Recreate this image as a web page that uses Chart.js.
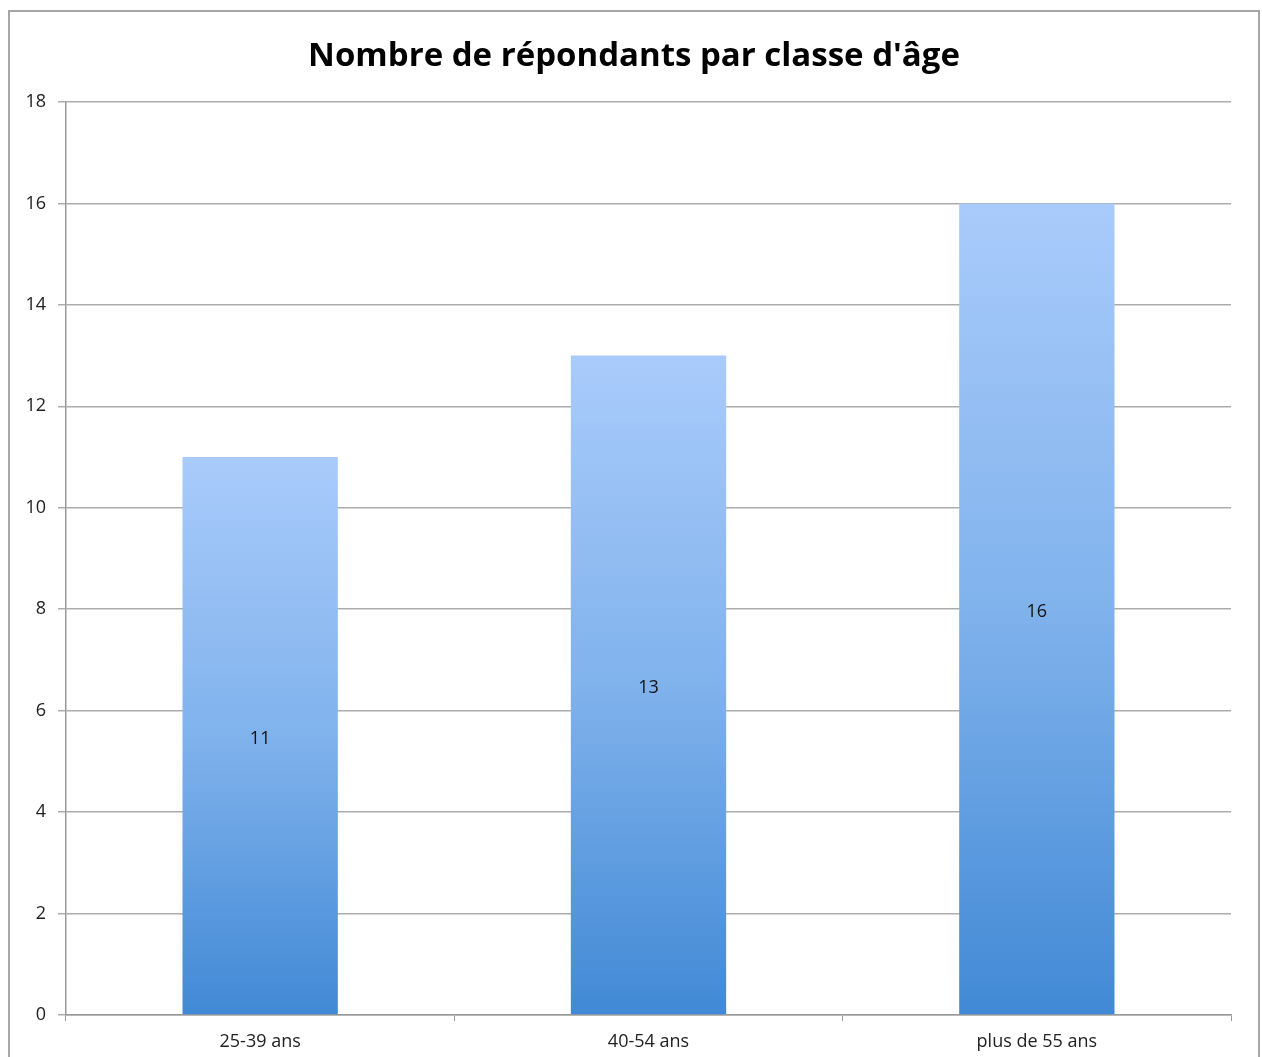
<!DOCTYPE html>
<html>
<head>
<meta charset="utf-8">
<script src="https://cdn.jsdelivr.net/npm/chart.js@4.4.0/dist/chart.umd.min.js"></script>
<style>
    html, body { margin: 0; padding: 0; background: #fff; }
    #wrap { width: 1262px; height: 1057px; position: relative; }
</style>
</head>
<body>
<div id="wrap"><canvas id="ageChart" width="1262" height="1057"></canvas></div>
<script>
// Data
const categories = ['25-39 ans', '40-54 ans', 'plus de 55 ans'];
const respondents = [11, 13, 16];
const yTicks = [0, 2, 4, 6, 8, 10, 12, 14, 16, 18];
const chartTitle = "Nombre de répondants par classe d'âge";

const FONT = '"Open Sans", "DejaVu Sans", sans-serif';

// Frame around the whole chart, plus the title centred on that frame
const framePlugin = {
    id: 'frame',
    beforeDraw(chart) {
        const ctx = chart.ctx;
        ctx.save();
        ctx.strokeStyle = '#a6a6a6';
        ctx.lineWidth = 2;
        ctx.strokeRect(9, 11, 1250, 1070);
        ctx.font = 'bold 33px ' + FONT;
        ctx.fillStyle = '#000';
        ctx.textAlign = 'center';
        ctx.textBaseline = 'middle';
        ctx.fillText(chartTitle, 634, 57);
        ctx.restore();
    }
};

// Value labels in the middle of each bar
const valueLabels = {
    id: 'valueLabels',
    afterDatasetsDraw(chart) {
        const ctx = chart.ctx;
        const meta = chart.getDatasetMeta(0);
        ctx.save();
        ctx.font = '18px ' + FONT;
        ctx.fillStyle = '#111';
        ctx.textAlign = 'center';
        ctx.textBaseline = 'middle';
        meta.data.forEach((bar, i) => {
            const mid = (bar.y + bar.base) / 2 + 3;
            ctx.fillText(String(respondents[i]), bar.x, mid);
        });
        ctx.restore();
    }
};

function barGradient(context) {
    const chart = context.chart;
    if (!chart.chartArea) return '#7aaee8';
    const yScale = chart.scales.y;
    const v = context.raw;
    const top = yScale.getPixelForValue(v);
    const bottom = yScale.getPixelForValue(0);
    const g = chart.ctx.createLinearGradient(0, top, 0, bottom);
    g.addColorStop(0, '#a9cbfb');
    g.addColorStop(0.5, '#80b2ec');
    g.addColorStop(1, '#4189d5');
    return g;
}

const ctx = document.getElementById('ageChart').getContext('2d');
new Chart(ctx, {
    type: 'bar',
    data: {
        labels: categories,
        datasets: [{
            data: respondents,
            backgroundColor: barGradient,
            borderWidth: 0,
            categoryPercentage: 1.0,
            barPercentage: 0.4
        }]
    },
    options: {
        responsive: false,
        animation: false,
        layout: { padding: { left: 0, right: 31, top: 102, bottom: 0 } },
        plugins: {
            legend: { display: false },
            tooltip: { enabled: false },
            title: { display: false }
        },
        scales: {
            x: {
                offset: true,
                grid: {
                    offset: true,
                    drawOnChartArea: false,
                    drawTicks: true,
                    tickLength: 6,
                    color: '#9a9a9a'
                },
                border: { color: '#9a9a9a', width: 1.5 },
                ticks: {
                    color: '#222',
                    font: { family: FONT, size: 18 },
                    padding: 10
                },
                afterFit(scale) { scale.height = 42; }
            },
            y: {
                min: 0,
                max: 18,
                afterBuildTicks(scale) {
                    scale.ticks = yTicks.map(v => ({ value: v }));
                },
                grid: {
                    color: '#acacac',
                    lineWidth: 1.5,
                    tickLength: 8
                },
                border: { color: '#9a9a9a', width: 1.5 },
                ticks: {
                    color: '#222',
                    font: { family: FONT, size: 18 },
                    padding: 12
                },
                afterFit(scale) { scale.width = 66; }
            }
        }
    },
    plugins: [framePlugin, valueLabels]
});
</script>
</body>
</html>
